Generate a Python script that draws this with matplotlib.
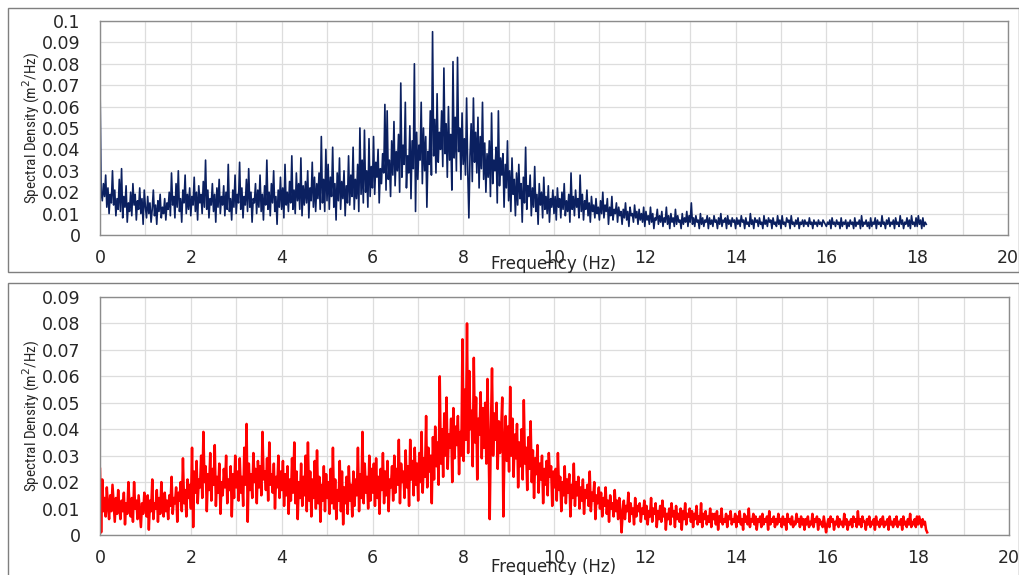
import numpy as np
import matplotlib
matplotlib.use("Agg")
import matplotlib.pyplot as plt
from matplotlib.patches import Rectangle

# spectral density values, in units of 0.001 m^2/Hz, one value every 0.025 Hz from 0 Hz
freq_step = 0.025

top_psd = [
    71, 20, 16, 24, 18, 28, 13, 22, 10, 19, 15, 30, 14, 21, 9, 17, 12, 26, 11, 31,
    8, 18, 13, 23, 6, 15, 11, 20, 9, 24, 14, 19, 7, 16, 12, 22, 10, 17, 5, 21,
    13, 8, 18, 10, 15, 6, 12, 21, 9, 14, 5, 16, 11, 19, 8, 13, 10, 17, 7, 15,
    12, 20, 9, 29, 14, 18, 8, 24, 13, 30, 11, 17, 6, 21, 15, 28, 10, 19, 12, 22,
    9, 18, 14, 27, 11, 20, 7, 23, 15, 19, 10, 25, 13, 35, 12, 21, 8, 17, 14, 24,
    11, 19, 6, 22, 13, 26, 10, 18, 14, 23, 9, 20, 12, 33, 11, 17, 7, 21, 13, 28,
    10, 19, 15, 34, 12, 22, 8, 18, 14, 26, 11, 31, 13, 20, 6, 17, 15, 24, 10, 21,
    13, 28, 11, 19, 7, 23, 14, 35, 12, 20, 9, 24, 15, 30, 11, 18, 5, 21, 13, 27,
    12, 22, 8, 33, 14, 20, 11, 25, 15, 37, 12, 21, 10, 29, 16, 24, 12, 36, 9, 23,
    14, 25, 15, 30, 8, 22, 16, 34, 13, 27, 11, 24, 17, 29, 12, 46, 15, 26, 11, 40,
    16, 33, 12, 27, 18, 41, 13, 24, 7, 29, 16, 36, 12, 25, 17, 30, 9, 23, 15, 37,
    14, 28, 18, 41, 12, 26, 17, 33, 11, 50, 19, 35, 15, 49, 20, 30, 13, 45, 18, 32,
    22, 46, 19, 34, 27, 40, 15, 31, 24, 38, 29, 61, 21, 58, 26, 35, 18, 44, 28, 53,
    23, 39, 30, 47, 20, 71, 27, 42, 33, 62, 22, 37, 29, 51, 17, 44, 31, 80, 11, 48,
    26, 42, 35, 62, 24, 50, 30, 46, 13, 39, 33, 58, 28, 95, 37, 54, 29, 66, 34, 48,
    40, 58, 32, 78, 38, 52, 27, 60, 35, 47, 21, 81, 36, 55, 30, 83, 39, 50, 26, 57,
    33, 45, 28, 64, 30, 8, 37, 52, 25, 64, 34, 48, 29, 55, 22, 46, 31, 62, 26, 43,
    20, 38, 27, 44, 18, 57, 24, 35, 30, 41, 15, 58, 23, 36, 28, 38, 13, 33, 22, 44,
    16, 30, 11, 36, 19, 26, 9, 29, 14, 33, 17, 24, 6, 27, 15, 41, 12, 23, 18, 28,
    9, 22, 13, 32, 11, 19, 5, 24, 14, 20, 8, 27, 12, 18, 10, 23, 6, 17, 13, 21,
    10, 18, 7, 22, 13, 17, 8, 20, 12, 24, 9, 16, 11, 19, 6, 29, 12, 18, 9, 21,
    13, 17, 8, 28, 11, 19, 7, 16, 12, 21, 9, 15, 6, 18, 11, 14, 8, 17, 10, 13,
    7, 16, 10, 20, 8, 14, 11, 17, 5, 13, 9, 18, 7, 12, 10, 15, 6, 13, 9, 11,
    5, 12, 8, 15, 7, 11, 4, 13, 9, 10, 6, 14, 8, 11, 5, 12, 7, 10, 6, 13,
    4, 11, 7, 9, 5, 13, 6, 10, 3, 8, 7, 12, 5, 9, 6, 11, 4, 8, 6, 13,
    5, 9, 3, 10, 6, 8, 4, 12, 5, 9, 6, 7, 3, 10, 5, 8, 6, 11, 4, 9,
    6, 15, 5, 8, 4, 9, 6, 7, 3, 10, 5, 8, 4, 7, 6, 9, 3, 8, 5, 7,
    4, 9, 6, 7, 3, 8, 5, 10, 4, 7, 6, 8, 3, 9, 5, 7, 4, 8, 6, 7,
    3, 8, 5, 7, 4, 9, 6, 7, 3, 8, 5, 6, 4, 10, 5, 7, 3, 8, 6, 7,
    4, 8, 5, 6, 3, 9, 5, 7, 4, 8, 6, 7, 3, 8, 5, 6, 4, 9, 5, 7,
    3, 9, 5, 6, 4, 8, 6, 7, 3, 9, 5, 6, 4, 7, 5, 8, 3, 6, 5, 7,
    4, 7, 5, 6, 4, 8, 5, 6, 3, 7, 5, 6, 4, 7, 5, 6, 4, 7, 6, 5,
    4, 6, 5, 7, 3, 8, 5, 6, 4, 7, 5, 6, 3, 8, 4, 6, 5, 7, 3, 6,
    4, 7, 5, 6, 3, 8, 4, 6, 5, 7, 3, 9, 4, 6, 5, 7, 4, 6, 3, 8,
    4, 6, 5, 8, 3, 7, 5, 6, 4, 9, 5, 6, 3, 7, 5, 8, 4, 6, 5, 7,
    3, 8, 5, 6, 4, 9, 5, 7, 3, 6, 5, 8, 4, 7, 3, 9, 5, 6, 4, 8,
    4, 9, 5, 7, 3, 8, 4, 6, 5,
]

bottom_psd = [
    25, 1, 21, 9, 14, 7, 18, 11, 6, 15, 9, 19, 12, 5, 14, 8, 17, 10, 6, 13,
    9, 16, 4, 12, 8, 20, 11, 7, 14, 5, 20, 10, 13, 6, 15, 9, 3, 12, 8, 16,
    11, 7, 15, 2, 13, 9, 21, 6, 12, 10, 17, 5, 14, 8, 20, 11, 7, 16, 9, 13,
    6, 15, 11, 22, 8, 14, 12, 18, 5, 16, 13, 20, 9, 29, 12, 17, 7, 21, 14, 19,
    10, 33, 3, 24, 16, 28, 12, 21, 18, 30, 14, 39, 20, 26, 9, 23, 17, 31, 13, 25,
    19, 34, 11, 22, 16, 27, 8, 20, 15, 25, 18, 30, 12, 21, 17, 26, 7, 23, 14, 30,
    18, 24, 13, 29, 16, 22, 11, 33, 19, 42, 5, 27, 17, 23, 14, 31, 20, 25, 12, 28,
    18, 26, 15, 39, 21, 24, 17, 29, 13, 35, 19, 23, 16, 27, 10, 22, 18, 30, 14, 24,
    17, 28, 11, 23, 15, 26, 8, 21, 13, 29, 16, 35, 12, 24, 6, 20, 14, 27, 11, 22,
    15, 30, 9, 35, 13, 24, 7, 21, 14, 28, 10, 32, 12, 22, 5, 19, 13, 26, 9, 23,
    14, 20, 8, 25, 12, 33, 10, 21, 6, 17, 13, 28, 9, 24, 4, 18, 12, 22, 8, 26,
    13, 19, 7, 24, 11, 21, 15, 33, 9, 23, 14, 39, 12, 27, 16, 22, 10, 30, 13, 25,
    16, 27, 11, 29, 14, 22, 8, 25, 17, 31, 12, 24, 15, 28, 9, 21, 18, 26, 13, 30,
    16, 25, 19, 36, 12, 27, 20, 24, 14, 32, 18, 26, 11, 36, 21, 28, 15, 33, 19, 27,
    13, 31, 20, 39, 16, 29, 22, 45, 18, 33, 24, 30, 12, 37, 21, 41, 26, 35, 19, 60,
    27, 40, 22, 46, 30, 52, 25, 38, 33, 44, 20, 48, 29, 41, 34, 45, 23, 39, 30, 74,
    28, 55, 36, 80, 31, 62, 40, 47, 26, 67, 35, 52, 21, 44, 38, 54, 29, 48, 33, 50,
    27, 59, 34, 6, 40, 63, 30, 46, 36, 50, 25, 43, 31, 39, 52, 7, 33, 45, 28, 41,
    24, 56, 30, 44, 22, 38, 29, 42, 18, 35, 26, 40, 21, 51, 27, 33, 17, 37, 25, 43,
    20, 32, 14, 29, 23, 34, 16, 27, 21, 30, 12, 25, 19, 28, 15, 31, 22, 26, 11, 24,
    18, 25, 13, 31, 17, 22, 9, 20, 15, 26, 12, 21, 16, 23, 7, 19, 14, 27, 11, 20,
    15, 22, 10, 18, 13, 21, 8, 17, 14, 19, 11, 24, 9, 16, 13, 20, 6, 15, 12, 18,
    10, 16, 7, 14, 11, 18, 8, 13, 5, 15, 10, 12, 7, 17, 9, 13, 6, 14, 10, 1,
    8, 13, 6, 11, 9, 16, 5, 12, 8, 10, 4, 14, 7, 11, 9, 12, 5, 10, 8, 13,
    6, 11, 4, 9, 7, 14, 5, 10, 8, 12, 3, 9, 6, 11, 5, 13, 7, 10, 2, 8,
    6, 10, 4, 12, 7, 9, 3, 11, 6, 8, 5, 10, 2, 9, 6, 12, 4, 8, 7, 10,
    5, 9, 3, 8, 6, 11, 4, 7, 5, 12, 3, 8, 6, 9, 4, 7, 5, 10, 3, 8,
    6, 8, 4, 9, 2, 7, 5, 10, 4, 6, 5, 8, 3, 7, 6, 9, 4, 6, 5, 8,
    3, 7, 5, 9, 4, 6, 2, 8, 5, 7, 4, 10, 3, 6, 5, 8, 4, 7, 2, 6,
    5, 7, 3, 8, 4, 6, 5, 7, 2, 9, 4, 6, 5, 7, 3, 6, 4, 8, 5, 6,
    3, 7, 4, 6, 2, 8, 5, 6, 4, 7, 3, 5, 4, 8, 5, 6, 3, 7, 4, 6,
    2, 6, 4, 7, 3, 5, 4, 8, 3, 6, 5, 7, 2, 6, 4, 5, 3, 7, 4, 1,
    4, 6, 3, 7, 5, 6, 2, 5, 4, 7, 3, 6, 4, 5, 3, 8, 4, 6, 2, 5,
    4, 6, 3, 7, 5, 6, 3, 9, 4, 6, 3, 7, 5, 5, 2, 6, 4, 7, 3, 5,
    4, 6, 2, 7, 4, 5, 3, 6, 4, 7, 3, 5, 4, 6, 2, 7, 4, 5, 3, 6,
    4, 7, 3, 5, 4, 6, 2, 7, 4, 5, 3, 6, 4, 8, 3, 5, 4, 6, 3, 7,
    4, 7, 5, 3, 6, 4, 5, 2, 1,
]

x_ticks = [0, 2, 4, 6, 8, 10, 12, 14, 16, 18, 20]
top_yticks = [0, 0.01, 0.02, 0.03, 0.04, 0.05, 0.06, 0.07, 0.08, 0.09, 0.1]
top_ylabels = ["0", "0.01", "0.02", "0.03", "0.04", "0.05", "0.06", "0.07", "0.08", "0.09", "0.1"]
bottom_yticks = [0, 0.01, 0.02, 0.03, 0.04, 0.05, 0.06, 0.07, 0.08, 0.09]
bottom_ylabels = ["0", "0.01", "0.02", "0.03", "0.04", "0.05", "0.06", "0.07", "0.08", "0.09"]

W, H = 1020, 575
fig = plt.figure(figsize=(W / 100, H / 100), dpi=100)


def px_axes(left, top, right, bottom):
    return fig.add_axes([left / W, 1 - bottom / H, (right - left) / W, (bottom - top) / H])


def style_axes(ax, yticks, ylabels, ymax):
    ax.set_xlim(0, 20)
    ax.set_ylim(0, ymax)
    ax.set_xticks(x_ticks)
    ax.set_xticks(np.arange(0, 21, 1), minor=True)
    ax.set_xticklabels([str(t) for t in x_ticks])
    ax.set_yticks(yticks)
    ax.set_yticklabels(ylabels)
    ax.grid(True, which="both", color="#dddddd", lw=0.9)
    ax.set_axisbelow(True)
    ax.tick_params(which="both", length=0)
    ax.tick_params(axis="x", pad=10, labelsize=12.5, labelcolor="#262626")
    ax.tick_params(axis="y", pad=14, labelsize=12.5, labelcolor="#262626")
    for s in ax.spines.values():
        s.set_color("#8c8c8c")
        s.set_linewidth(1.0)
    ax.set_ylabel("Spectral Density (m$^2$/Hz)",
                  family=["Liberation Sans Narrow", "Roboto Condensed", "Roboto"],
                  fontsize=11, color="#262626")
    ax.yaxis.set_label_coords(-0.064, 0.5)


# outer chart frames
fig.patches.append(Rectangle((8 / W, 1 - 272 / H), 1011 / W, 264 / H, transform=fig.transFigure,
                             fill=False, edgecolor="#7f7f7f", lw=1.0))
fig.patches.append(Rectangle((8 / W, -0.05), 1011 / W, 1 - 283 / H + 0.05, transform=fig.transFigure,
                             fill=False, edgecolor="#7f7f7f", lw=1.0))

freq_top = np.arange(len(top_psd)) * freq_step
freq_bottom = np.arange(len(bottom_psd)) * freq_step

ax1 = px_axes(100, 21, 1008, 235)
ax1.plot(freq_top, np.array(top_psd) / 1000, color="#0b2060", lw=1.2)
style_axes(ax1, top_yticks, top_ylabels, 0.1)
fig.text(554 / W, 1 - 264 / H, "Frequency (Hz)", ha="center", va="center", fontsize=12, color="#262626")

ax2 = px_axes(100, 297, 1009, 535)
ax2.plot(freq_bottom, np.array(bottom_psd) / 1000, color="#ff0000", lw=1.8)
style_axes(ax2, bottom_yticks, bottom_ylabels, 0.09)
fig.text(554 / W, 1 - 567 / H, "Frequency (Hz)", ha="center", va="center", fontsize=12, color="#262626")

fig.savefig("out.png", dpi=100)
